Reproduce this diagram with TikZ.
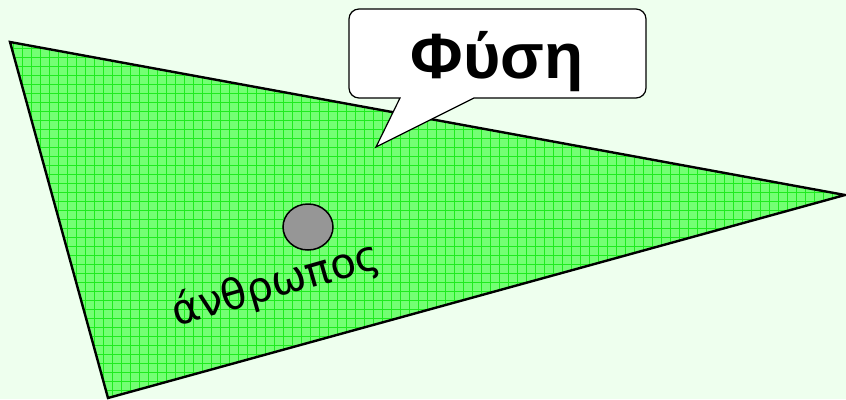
\documentclass[tikz,border=0pt]{standalone}
\usepackage{fontspec}
\usetikzlibrary{shapes.geometric}
\newfontfamily\callfont{Liberation Sans}
\newfontfamily\labfont{DejaVu Sans}
\definecolor{bgmint}{RGB}{238,255,238}
\definecolor{trifill}{RGB}{115,255,115}
\definecolor{gridgreen}{RGB}{30,235,30}
\definecolor{headgray}{RGB}{150,150,150}
\tikzset{
  edgeline/.style={draw=black,line width=2.4pt,line join=miter},
  gridline/.style={draw=gridgreen,line width=0.8pt},
  calloutbox/.style={draw=black,line width=1.2pt,fill=white},
  person/.style={draw=black,line width=1.5pt,fill=headgray},
}
\begin{document}
\begin{tikzpicture}[x=1pt,y=-1pt]
\fill[bgmint] (0,0) rectangle (846,399);
\useasboundingbox (0,0) rectangle (846,399);
\coordinate (A) at (10,42);
\coordinate (B) at (845,195);
\coordinate (C) at (108,398);
\fill[trifill] (A) -- (B) -- (C) -- cycle;
\begin{scope}
\clip (A) -- (B) -- (C) -- cycle;
\foreach \x in {4,13,...,850} {\draw[gridline] (\x,0) -- (\x,399);}
\foreach \y in {3,12,...,400} {\draw[gridline] (0,\y) -- (846,\y);}
\end{scope}
\draw[edgeline] (A) -- (B) -- (C) -- cycle;
% callout
\draw[calloutbox] (474,98) -- (636,98) arc (90:0:10) -- (646,19) arc (0:-90:10)
  -- (359,9) arc (-90:-180:10) -- (349,88) arc (180:90:10) -- (400,98) -- (376,147) -- cycle;
\node[font=\callfont\bfseries\fontsize{64}{70}\selectfont] (fysi) at (497,62) {Φύση};
% person
\node[person,ellipse,minimum width=50pt,minimum height=46pt,inner sep=0pt] (head) at (308,227) {};
\node[font=\labfont\fontsize{42}{48}\selectfont,rotate=16] (anthr) at (276,285) {άνθρωπος};
\end{tikzpicture}
\end{document}
